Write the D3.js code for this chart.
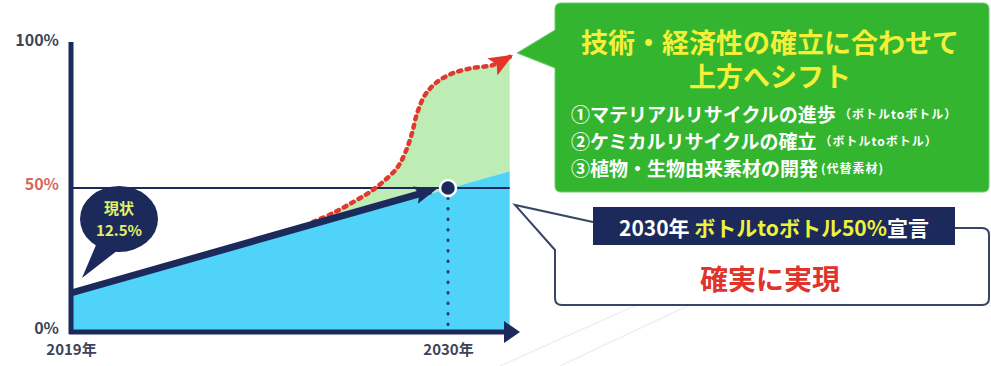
<!DOCTYPE html>
<html>
<head>
<meta charset="utf-8">
<script src="https://cdn.jsdelivr.net/npm/d3@7"></script>
<style>
  body { margin: 0; background: #fff; }
  svg { display: block; font-family: "Noto Sans CJK JP", "Noto Sans", sans-serif; }
</style>
</head>
<body>
<script>
var width = 991,
  height = 366;

// data
var yearTicks = [2019, 2030];
var pctTicks = [0, 50, 100];
var baseYears = [2019, 2031.8];
var baseValues = [12.5, 55.8];
var targetYear = 2030, targetValue = 50;
var arrowYears = [2019, 2029.5];
var shiftYears = [2026.06, 2026.65, 2027.23, 2027.72, 2028.1, 2028.51, 2028.75, 2028.95, 2029.1, 2029.33, 2029.68, 2030.15, 2030.73, 2031.31, 2031.8];
var shiftValues = [38.2, 41.3, 45.1, 48.6, 52.1, 56.9, 62.2, 69.1, 76.0, 82.3, 86.8, 89.9, 91.7, 92.7, 95.5];
var greenTop = [38.2, 41.3, 45.1, 48.6, 52.1, 56.9, 62.2, 69.1, 76.0, 82.3, 86.8, 89.9, 91.7, 92.5, 94.2];
var titleLines = ["技術・経済性の確立に合わせて", "上方へシフト"];
var itemMain = ["①マテリアルリサイクルの進歩", "②ケミカルリサイクルの確立", "③植物・生物由来素材の開発"];
var itemNote = ["（ボトルtoボトル）", "（ボトルtoボトル）", "(代替素材)"];

var navy = "#1c2a5b";

var svg = d3.select("body").append("svg")
  .attr("width", width)
  .attr("height", height);

var defs = svg.append("defs");
defs.append("marker")
  .attr("id", "redHead")
  .attr("markerUnits", "userSpaceOnUse")
  .attr("viewBox", "0 0 24 20")
  .attr("refX", 20).attr("refY", 10)
  .attr("markerWidth", 24).attr("markerHeight", 20)
  .attr("orient", "auto")
  .append("path").attr("d", "M0,0 L24,10 L0,20 L5,10 Z").attr("fill", "#e5332a");
defs.append("marker")
  .attr("id", "navyHead")
  .attr("markerUnits", "userSpaceOnUse")
  .attr("viewBox", "0 0 22 18")
  .attr("refX", 16).attr("refY", 9)
  .attr("markerWidth", 22).attr("markerHeight", 18)
  .attr("orient", "auto")
  .append("path").attr("d", "M0,0 L22,9 L0,18 L4,9 Z").attr("fill", navy);
defs.append("marker")
  .attr("id", "axisHead")
  .attr("markerUnits", "userSpaceOnUse")
  .attr("viewBox", "0 0 16 22")
  .attr("refX", 2).attr("refY", 11)
  .attr("markerWidth", 16).attr("markerHeight", 22)
  .attr("orient", "auto")
  .append("path").attr("d", "M0,0 L16,11 L0,22 Z").attr("fill", navy);

var x = d3.scaleLinear().domain([2019, 2030]).range([71, 448]);
var y = d3.scaleLinear().domain([0, 100]).range([332, 44]);
var baseAt = d3.scaleLinear().domain(baseYears).range(baseValues);

// faint background strokes
var bg = svg.append("g").attr("stroke", "#eef0f5").attr("fill", "none").attr("stroke-width", 1.5);
bg.append("path").attr("d", "M500,366 L760,250");
bg.append("path").attr("d", "M560,366 L700,300");

// green area
var greenArea = d3.area()
  .x(function(d, i) { return x(shiftYears[i]); })
  .y0(function(d, i) { return y(baseAt(shiftYears[i])); })
  .y1(function(d) { return y(d); })
  .curve(d3.curveCatmullRom);
svg.append("path")
  .datum(greenTop)
  .attr("d", greenArea)
  .attr("fill", "#bdecb4");

// blue area
var blueArea = d3.area()
  .x(function(d, i) { return x(baseYears[i]); })
  .y0(y(0))
  .y1(function(d) { return y(d); });
svg.append("path")
  .datum(baseValues)
  .attr("d", blueArea)
  .attr("fill", "#4fd3f8");

// 50% line
svg.append("line")
  .attr("x1", x(2019)).attr("x2", x(baseYears[1]))
  .attr("y1", y(50)).attr("y2", y(50))
  .attr("stroke", navy).attr("stroke-width", 2);

// dotted drop line
svg.append("line")
  .attr("x1", x(targetYear)).attr("x2", x(targetYear))
  .attr("y1", y(targetValue) + 10).attr("y2", y(0) - 4)
  .attr("stroke", "#2a3a6b").attr("stroke-width", 3)
  .attr("stroke-linecap", "round")
  .attr("stroke-dasharray", "0.5 10");

// red dashed shift curve
var shiftLine = d3.line()
  .x(function(d, i) { return x(shiftYears[i]); })
  .y(function(d) { return y(d); })
  .curve(d3.curveCatmullRom);
svg.append("path")
  .datum(shiftValues)
  .attr("d", shiftLine)
  .attr("fill", "none")
  .attr("stroke", "#e0392e")
  .attr("stroke-width", 4.5)
  .attr("stroke-linecap", "round")
  .attr("stroke-dasharray", "3 5.5")
  .attr("marker-end", "url(#redHead)");

// navy growth arrow
svg.append("line")
  .attr("x1", x(arrowYears[0])).attr("y1", y(baseAt(arrowYears[0])) - 3)
  .attr("x2", x(arrowYears[1])).attr("y2", y(baseAt(arrowYears[1])) - 3)
  .attr("stroke", navy).attr("stroke-width", 7)
  .attr("marker-end", "url(#navyHead)");

// axes
var yAxis = svg.append("g")
  .attr("transform", "translate(" + x(2019) + ",0)")
  .call(d3.axisLeft(y).tickValues(pctTicks).tickSize(0).tickPadding(12)
    .tickFormat(function(d) { return d + "%"; }));
yAxis.select(".domain").attr("stroke", navy).attr("stroke-width", 5)
  .attr("d", "M0," + (y(0) + 2) + "V" + (y(100) - 2));
yAxis.selectAll("text")
  .attr("font-family", "\"Noto Sans CJK JP\", sans-serif")
  .attr("font-size", 16).attr("font-weight", 700)
  .attr("dy", "0.1em")
  .attr("fill", function(d) { return d === 50 ? "#d8665e" : "#3d4459"; });

var xAxis = svg.append("g")
  .attr("transform", "translate(0," + y(0) + ")")
  .call(d3.axisBottom(x).tickValues(yearTicks).tickSize(0).tickPadding(12)
    .tickFormat(function(d) { return d + "年"; }));
xAxis.select(".domain").remove();
xAxis.selectAll("text")
  .attr("font-family", "\"Noto Sans CJK JP\", sans-serif")
  .attr("font-size", 15).attr("font-weight", 700)
  .attr("fill", "#3d4459");
svg.append("line")
  .attr("x1", x(2019) - 2).attr("x2", 506)
  .attr("y1", y(0)).attr("y2", y(0))
  .attr("stroke", navy).attr("stroke-width", 5)
  .attr("marker-end", "url(#axisHead)");

// target dot
svg.append("circle")
  .attr("cx", x(targetYear)).attr("cy", y(targetValue))
  .attr("r", 8)
  .attr("fill", navy).attr("stroke", "#fff").attr("stroke-width", 2.5);

// 現状 bubble
var bubble = svg.append("g");
bubble.append("path")
  .attr("d", "M96,245 L82,278 L118,250 Z")
  .attr("fill", navy);
bubble.append("ellipse")
  .attr("cx", 119).attr("cy", 219).attr("rx", 39).attr("ry", 33)
  .attr("fill", navy);
bubble.append("text")
  .attr("x", 119).attr("y", 207).attr("text-anchor", "middle")
  .attr("dominant-baseline", "central")
  .attr("font-size", 15).attr("font-weight", 700).attr("fill", "#e2f268")
  .text("現状");
bubble.append("text")
  .attr("x", 119).attr("y", 229).attr("text-anchor", "middle")
  .attr("dominant-baseline", "central")
  .attr("font-size", 15).attr("font-weight", 700).attr("fill", "#e2f268")
  .text(baseValues[0] + "%");

// green callout
var callout = svg.append("g");
callout.append("path")
  .attr("d", "M561,3 H983 Q989,3 989,9 V186 Q989,192 983,192 H561 Q555,192 555,186 V68 L517,53 L555,30 V9 Q555,3 561,3 Z")
  .attr("fill", "#33b52f")
  .attr("stroke", "#6fcf6a").attr("stroke-width", 1);
callout.selectAll(".title")
  .data(titleLines)
  .enter().append("text")
  .attr("class", "title")
  .attr("x", 770)
  .attr("y", function(d, i) { return 41 + i * 34; })
  .attr("text-anchor", "middle")
  .attr("dominant-baseline", "central")
  .attr("font-size", 27).attr("font-weight", 700)
  .attr("fill", "#f4f03a")
  .text(function(d) { return d; });
var items = callout.selectAll(".item")
  .data(itemMain)
  .enter().append("text")
  .attr("class", "item")
  .attr("x", 571)
  .attr("y", function(d, i) { return 113 + i * 27; })
  .attr("dominant-baseline", "central")
  .attr("font-weight", 700)
  .attr("fill", "#fff");
items.append("tspan").attr("font-size", 19).text(function(d) { return d; });
items.append("tspan").attr("font-size", 12).attr("dx", 3)
  .attr("letter-spacing", 1)
  .text(function(d, i) { return itemNote[i]; });

// white callout with banner
var callout2 = svg.append("g");
callout2.append("path")
  .attr("d", "M593,222 L515,205 L555,250 V298 Q555,305 562,305 H982 Q989,305 989,298 V235 Q989,228 982,228 H955")
  .attr("fill", "#fff")
  .attr("stroke", "#3a4566").attr("stroke-width", 2);
callout2.append("rect")
  .attr("x", 593).attr("y", 207).attr("width", 362).attr("height", 38)
  .attr("fill", navy);
var banner = callout2.append("text")
  .attr("x", 774).attr("y", 227)
  .attr("text-anchor", "middle")
  .attr("dominant-baseline", "central")
  .attr("font-size", 21).attr("font-weight", 700);
banner.append("tspan").attr("fill", "#fff").text(targetYear + "年 ");
banner.append("tspan").attr("fill", "#eef23c").text("ボトルtoボトル" + targetValue + "%");
banner.append("tspan").attr("fill", "#fff").text("宣言");
callout2.append("text")
  .attr("x", 770).attr("y", 278)
  .attr("text-anchor", "middle")
  .attr("dominant-baseline", "central")
  .attr("font-size", 28).attr("font-weight", 700)
  .attr("fill", "#e0332b")
  .text("確実に実現");
</script>
</body>
</html>
